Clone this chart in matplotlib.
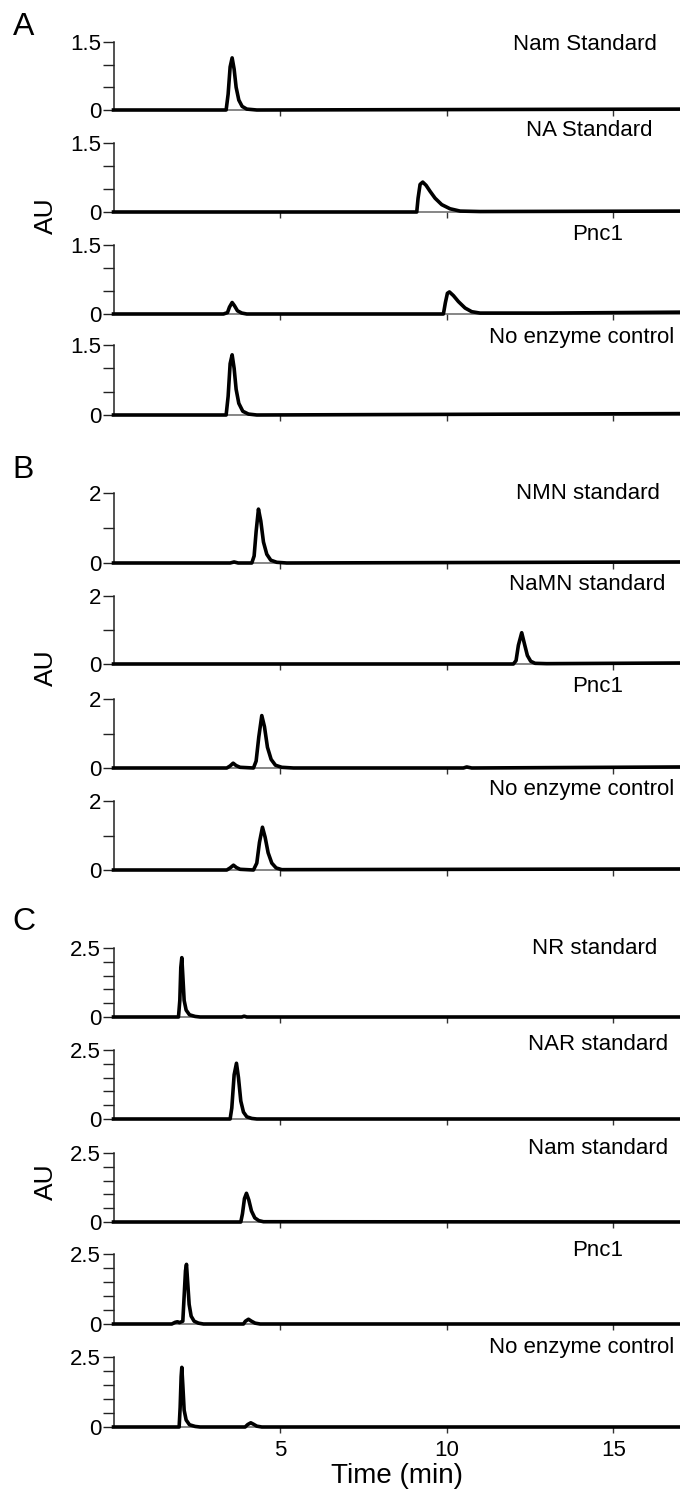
import matplotlib
matplotlib.use('Agg')
import matplotlib.pyplot as plt

plt.rcParams['font.family'] = ['Liberation Sans', 'DejaVu Sans']

# chromatogram traces, (time in min, absorbance in AU)
a_nam_std = [(0, 0), (3.38, 0), (3.44, 0.35), (3.50, 0.95), (3.56, 1.15), (3.62, 0.9),
             (3.68, 0.5), (3.76, 0.22), (3.86, 0.08), (4.0, 0.02), (4.3, 0), (17, 0.02)]
a_na_std = [(0, 0), (9.1, 0), (9.14, 0.3), (9.2, 0.6), (9.28, 0.65), (9.38, 0.58),
            (9.5, 0.45), (9.65, 0.3), (9.85, 0.16), (10.1, 0.07), (10.4, 0.02),
            (11, 0.01), (17, 0.02)]
a_pnc1 = [(0, 0), (3.3, 0), (3.42, 0.03), (3.48, 0.15), (3.56, 0.25), (3.63, 0.18),
          (3.72, 0.07), (3.85, 0.02), (4.0, 0), (9.9, 0), (9.96, 0.25), (10.02, 0.45),
          (10.08, 0.48), (10.2, 0.4), (10.35, 0.27), (10.55, 0.13), (10.75, 0.05),
          (11.0, 0.02), (13, 0.02), (17, 0.04)]
a_no_enz = [(0, 0), (3.38, 0), (3.44, 0.4), (3.5, 1.1), (3.56, 1.29), (3.62, 1.0),
            (3.68, 0.55), (3.76, 0.25), (3.88, 0.08), (4.05, 0.02), (4.3, 0), (17, 0.03)]

b_nmn_std = [(0, 0), (3.5, 0), (3.62, 0.03), (3.74, 0), (4.15, 0), (4.22, 0.2),
             (4.28, 0.9), (4.35, 1.54), (4.42, 1.2), (4.5, 0.6), (4.6, 0.25),
             (4.72, 0.08), (4.9, 0.02), (5.2, 0), (17, 0.03)]
b_namn_std = [(0, 0), (12.0, 0), (12.08, 0.1), (12.15, 0.55), (12.25, 0.92), (12.33, 0.6),
              (12.42, 0.25), (12.52, 0.08), (12.65, 0.02), (13, 0.01), (17, 0.03)]
b_pnc1 = [(0, 0), (3.4, 0), (3.5, 0.06), (3.59, 0.14), (3.68, 0.07), (3.8, 0.02),
          (4.2, 0), (4.28, 0.2), (4.36, 0.9), (4.45, 1.52), (4.53, 1.2), (4.62, 0.6),
          (4.73, 0.25), (4.86, 0.08), (5.05, 0.02), (5.4, 0), (10.5, 0), (10.6, 0.03),
          (10.75, 0), (17, 0.03)]
b_no_enz = [(0, 0), (3.4, 0), (3.5, 0.06), (3.6, 0.14), (3.69, 0.07), (3.8, 0.02),
            (4.2, 0), (4.3, 0.2), (4.38, 0.8), (4.47, 1.24), (4.55, 0.95), (4.64, 0.5),
            (4.75, 0.2), (4.88, 0.06), (5.05, 0.01), (17, 0.03)]

c_nr_std = [(0, 0), (1.95, 0), (1.99, 0.6), (2.02, 1.8), (2.05, 2.15), (2.08, 1.5),
            (2.12, 0.6), (2.18, 0.25), (2.28, 0.08), (2.45, 0.02), (2.6, 0), (3.85, 0),
            (3.92, 0.03), (4.0, 0), (17, 0)]
c_nar_std = [(0, 0), (3.5, 0), (3.55, 0.4), (3.62, 1.6), (3.69, 2.02), (3.75, 1.5),
             (3.82, 0.65), (3.9, 0.25), (4.0, 0.08), (4.15, 0.02), (4.3, 0), (17, 0)]
c_nam_std = [(0, 0), (3.82, 0), (3.87, 0.3), (3.93, 0.85), (3.99, 1.04), (4.06, 0.8),
             (4.14, 0.4), (4.24, 0.15), (4.36, 0.05), (4.5, 0.01), (17, 0)]
c_pnc1 = [(0, 0), (1.75, 0), (1.85, 0.06), (1.92, 0.08), (1.98, 0.05), (2.08, 0.1),
          (2.12, 1.0), (2.16, 1.9), (2.19, 2.13), (2.22, 1.6), (2.27, 0.7), (2.33, 0.28),
          (2.42, 0.1), (2.55, 0.03), (2.7, 0), (3.9, 0), (3.96, 0.1), (4.05, 0.17),
          (4.14, 0.1), (4.25, 0.03), (4.4, 0), (17, 0)]
c_no_enz = [(0, 0), (1.97, 0), (2.0, 0.7), (2.03, 1.8), (2.05, 2.13), (2.08, 1.5),
            (2.12, 0.6), (2.18, 0.25), (2.28, 0.08), (2.45, 0.02), (2.6, 0), (3.95, 0),
            (4.03, 0.09), (4.12, 0.15), (4.2, 0.1), (4.3, 0.03), (4.45, 0), (17, 0)]

a_labels = ['Nam Standard', 'NA Standard', 'Pnc1', 'No enzyme control']
b_labels = ['NMN standard', 'NaMN standard', 'Pnc1', 'No enzyme control']
c_labels = ['NR standard', 'NAR standard', 'Nam standard', 'Pnc1', 'No enzyme control']

a_yticks = [0, 0.5, 1.0, 1.5]
a_yticklabels = ['0', '', '', '1.5']
b_yticks = [0, 1, 2]
b_yticklabels = ['0', '', '2']
c_yticks = [0, 0.5, 1.0, 1.5, 2.0, 2.5]
c_yticklabels = ['0', '', '', '', '', '2.5']
x_ticks = [5, 10, 15]
x_ticklabels = ['5', '10', '15']

W, H = 680, 1492
fig = plt.figure(figsize=(W / 100, H / 100), dpi=100)

# rows: trace, label, yticks, yticklabels, (axis top px, axis bottom px), label centre px
rows = [
    (a_nam_std, a_labels[0], a_yticks, a_yticklabels, (42, 110), (585, 45)),
    (a_na_std, a_labels[1], a_yticks, a_yticklabels, (143, 212), (589, 130)),
    (a_pnc1, a_labels[2], a_yticks, a_yticklabels, (245, 314), (598, 234)),
    (a_no_enz, a_labels[3], a_yticks, a_yticklabels, (345, 415), (582, 338)),
    (b_nmn_std, b_labels[0], b_yticks, b_yticklabels, (493, 563), (588, 493)),
    (b_namn_std, b_labels[1], b_yticks, b_yticklabels, (596, 664), (587, 585)),
    (b_pnc1, b_labels[2], b_yticks, b_yticklabels, (699, 768), (598, 687)),
    (b_no_enz, b_labels[3], b_yticks, b_yticklabels, (801, 870), (582, 790)),
    (c_nr_std, c_labels[0], c_yticks, c_yticklabels, (948, 1017), (595, 949)),
    (c_nar_std, c_labels[1], c_yticks, c_yticklabels, (1050, 1119), (598, 1044)),
    (c_nam_std, c_labels[2], c_yticks, c_yticklabels, (1153, 1222), (598, 1148)),
    (c_pnc1, c_labels[3], c_yticks, c_yticklabels, (1254, 1324), (598, 1250)),
    (c_no_enz, c_labels[4], c_yticks, c_yticklabels, (1357, 1427), (582, 1348)),
]

left_px = 113.5
for i, (trace, label, yt, ytl, (top, bot), (lx, ly)) in enumerate(rows):
    ax = fig.add_axes([left_px / W, 1 - bot / H, (W - left_px) / W, (bot - top) / H])
    t = [p[0] for p in trace]
    au = [p[1] for p in trace]
    ax.plot(t, au, color='black', lw=2.6, solid_joinstyle='round',
            clip_on=False, zorder=5)
    ax.set_xlim(0, 17)
    ax.set_ylim(0, yt[-1])
    ax.set_yticks(yt, ytl)
    ax.set_xticks(x_ticks, x_ticklabels)
    for s in ['top', 'right']:
        ax.spines[s].set_visible(False)
    ax.spines['left'].set_linewidth(1.1)
    ax.spines['left'].set_color('#222222')
    ax.spines['bottom'].set_linewidth(1.1)
    ax.spines['bottom'].set_color('#666666')
    ax.tick_params(axis='y', length=8, width=1, pad=1, labelsize=16, colors='#222222',
                   labelcolor='black')
    ax.tick_params(axis='x', length=4, width=1, pad=5, labelsize=16, colors='#333333',
                   labelcolor='black', labelbottom=(i == len(rows) - 1))
    ax.patch.set_visible(False)
    fig.text(lx / W, 1 - ly / H, label, fontsize=16, ha='center', va='center')

ax.set_xlabel('Time (min)', fontsize=20, labelpad=2)

for letter, x, y in [('A', 24, 27), ('B', 23, 470), ('C', 24, 922)]:
    fig.text(x / W, 1 - y / H, letter, fontsize=23, ha='center', va='center')
for y in [216, 668, 1182]:
    fig.text(46 / W, 1 - y / H, 'AU', fontsize=19, rotation=90, ha='center', va='center')

fig.savefig('out.png', dpi=100)
